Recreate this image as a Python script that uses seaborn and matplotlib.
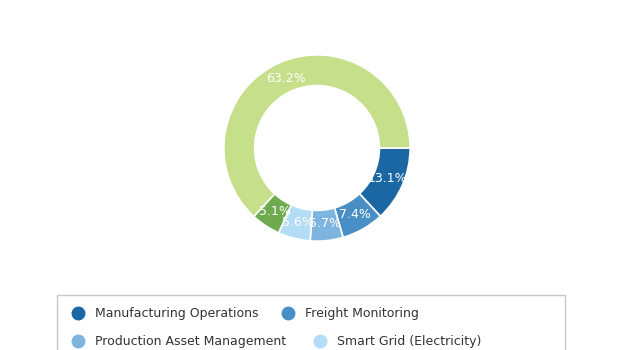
import matplotlib
matplotlib.use("Agg")
import matplotlib.pyplot as plt
import seaborn as sns
from matplotlib.lines import Line2D
from matplotlib.patches import Rectangle

# ---- data ----
categories = ["Manufacturing Operations", "Freight Monitoring",
              "Production Asset Management", "Smart Grid (Electricity)",
              "Segment 5", "Segment 6"]
shares = [13.1, 7.4, 5.7, 5.6, 5.1, 63.2]
share_labels = ["13.1%", "7.4%", "5.7%", "5.6%", "5.1%", "63.2%"]
colors = ["#1b67a4", "#4a8ec6", "#7eb5e0", "#b3dcf6", "#6fab4e", "#c6df8b"]

sns.set_theme(style="white")
plt.rcParams["font.family"] = ["DejaVu Sans"]

W, H = 630, 350
fig = plt.figure(figsize=(W / 100, H / 100), dpi=100)
fig.patch.set_facecolor("white")

# pie axes: center (317,148), radius 95 px
cx, cy, R = 317, 148, 95
ax = fig.add_axes([(cx - R) / W, (H - cy - R) / H, 2 * R / W, 2 * R / H])
wedges, texts = ax.pie(
    shares, colors=colors, startangle=0, counterclock=False,
    labels=share_labels, labeldistance=0.82, radius=1,
    wedgeprops=dict(width=0.33, edgecolor="white", linewidth=1.2),
    textprops=dict(color="white", fontsize=9),
)
for t in texts:
    t.set_ha("center")
    t.set_va("center")
ax.set_xlim(-1.02, 1.02)
ax.set_ylim(-1.02, 1.02)
ax.set_aspect("equal")
ax.axis("off")

# legend frame (cut off at the bottom like the reference)
fig.patches.append(Rectangle((57 / W, -0.1), (565 - 57) / W, (H - 295) / H + 0.1,
                             transform=fig.transFigure, facecolor="none",
                             edgecolor="#c8c8c8", linewidth=1.0))

# legend items (horizontal flow layout)
fs = 9
fs_px = fs * 100 / 72
positions = [(78, 314), (288, 314), (78, 342), (320, 342)]
for i, (mx, my) in enumerate(positions):
    h = Line2D([], [], marker="o", linestyle="none", markersize=9,
               markerfacecolor=colors[i], markeredgecolor=colors[i])
    handle_len = 1.0
    pad = (17 - handle_len * fs_px / 2) / fs_px
    leg = fig.legend([h], [categories[i]], loc="center left",
                     bbox_to_anchor=((mx - handle_len * fs_px / 2) / W, 1 - my / H),
                     frameon=False, fontsize=fs, handlelength=handle_len,
                     handletextpad=pad, borderpad=0, borderaxespad=0)
    for t in leg.get_texts():
        t.set_color("#333333")

fig.savefig("out.png", dpi=100)
